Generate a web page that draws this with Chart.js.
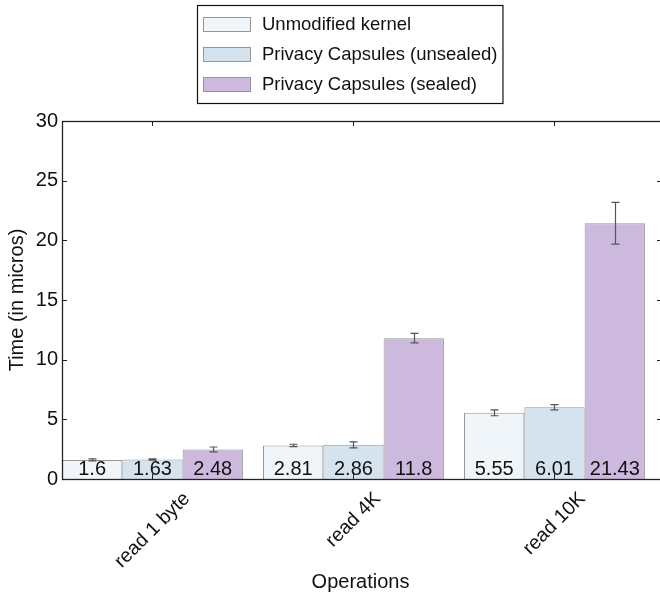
<!DOCTYPE html>
<html>
<head>
<meta charset="utf-8">
<script src="https://cdn.jsdelivr.net/npm/chart.js@4.4.1/dist/chart.umd.min.js"></script>
<style>
  html, body { margin: 0; padding: 0; background: #fff; }
  canvas { display: block; }
</style>
</head>
<body>
<canvas id="chart" width="660" height="598"></canvas>
<script>
// Latency of read operations, in microseconds
const operations = ['read 1 byte', 'read 4K', 'read 10K'];
const seriesNames = ['Unmodified kernel', 'Privacy Capsules (unsealed)', 'Privacy Capsules (sealed)'];
const unmodified = [1.6, 2.81, 5.55];
const unsealed = [1.63, 2.86, 6.01];
const sealed = [2.48, 11.8, 21.43];
// standard deviation of each measurement
const unmodifiedErr = [0.08, 0.1, 0.25];
const unsealedErr = [0.05, 0.25, 0.22];
const sealedErr = [0.2, 0.4, 1.75];
const yTicks = [0, 5, 10, 15, 20, 25, 30];

const FONT = "'Liberation Sans', Arial, Helvetica, sans-serif";
const fills = ['#f0f5f9', '#d5e3ef', '#cdb9dd'];
const edge = '#969696';
const groupCenter = 0.45;        // three bars of width 0.3 starting at each integer
const seriesValues = [unmodified, unsealed, sealed];
const seriesErrors = [unmodifiedErr, unsealedErr, sealedErr];

const datasets = seriesNames.map((name, s) => ({
  label: name,
  data: operations.map((_, i) => ({ x: i + groupCenter, y: seriesValues[s][i] })),
  backgroundColor: fills[s],
  borderColor: edge,
  borderWidth: 1,
  categoryPercentage: 0.9,
  barPercentage: 1.0
}));

// Axes frame with inward tick marks on every side; the right spine sits just past the canvas edge
const frame = {
  id: 'frame',
  afterDatasetsDraw(chart) {
    const { ctx, chartArea: a, scales: { x, y } } = chart;
    const right = a.right + 3;
    ctx.save();
    ctx.strokeStyle = '#222';
    ctx.lineWidth = 1;
    ctx.beginPath();
    y.ticks.forEach(t => {
      const py = Math.round(y.getPixelForValue(t.value)) + 0.5;
      ctx.moveTo(a.left, py); ctx.lineTo(a.left + 5, py);
      ctx.moveTo(right, py); ctx.lineTo(right - 5, py);
    });
    x.ticks.forEach(t => {
      const px = Math.round(x.getPixelForValue(t.value)) + 0.5;
      ctx.moveTo(px, a.bottom); ctx.lineTo(px, a.bottom - 5);
      ctx.moveTo(px, a.top); ctx.lineTo(px, a.top + 5);
    });
    ctx.stroke();
    ctx.lineWidth = 1.3;
    ctx.strokeRect(a.left + 0.5, a.top + 0.5, right - a.left, a.bottom - a.top);
    ctx.restore();
  }
};

// Error bars and value labels for each bar
const barExtras = {
  id: 'barExtras',
  afterDatasetsDraw(chart) {
    const { ctx, chartArea: a, scales: { y } } = chart;
    ctx.save();
    chart.data.datasets.forEach((ds, s) => {
      const meta = chart.getDatasetMeta(s);
      meta.data.forEach((bar, i) => {
        const v = seriesValues[s][i];
        const e = seriesErrors[s][i];
        const top = y.getPixelForValue(v + e);
        const bot = y.getPixelForValue(v - e);
        const cx = Math.round(bar.x) + 0.5;
        ctx.strokeStyle = '#555';
        ctx.lineWidth = 1.2;
        ctx.beginPath();
        ctx.moveTo(cx, top); ctx.lineTo(cx, bot);
        ctx.moveTo(cx - 4, top); ctx.lineTo(cx + 4, top);
        ctx.moveTo(cx - 4, bot); ctx.lineTo(cx + 4, bot);
        ctx.stroke();

        ctx.fillStyle = '#111';
        ctx.font = '20px ' + FONT;
        ctx.textAlign = 'center';
        ctx.textBaseline = 'alphabetic';
        ctx.fillText(String(v), bar.x, a.bottom - 4);
      });
    });
    ctx.restore();
  }
};

// Category labels, rotated 45 degrees and centred under each group
const xLabels = {
  id: 'xLabels',
  afterDraw(chart) {
    const { ctx, chartArea: a, scales: { x } } = chart;
    ctx.save();
    ctx.font = '19.5px ' + FONT;
    ctx.fillStyle = '#111';
    ctx.textAlign = 'center';
    ctx.textBaseline = 'middle';
    x.ticks.forEach((t, i) => {
      const label = operations[i];
      const w = ctx.measureText(label).width;
      const h = 19;
      const half = (w + h) * Math.SQRT1_2 / 2;
      const px = x.getPixelForValue(t.value);
      ctx.save();
      ctx.translate(px, a.bottom + 10 + half);
      ctx.rotate(-Math.PI / 4);
      ctx.fillText(label, 0, 0);
      ctx.restore();
    });
    ctx.restore();
  }
};

// Boxed legend, one series per row
const boxedLegend = {
  id: 'boxedLegend',
  afterDraw(chart) {
    const { ctx } = chart;
    const left = 197, top = 5, rowH = 30, sw = 47, sh = 14;
    ctx.save();
    ctx.font = '18.5px ' + FONT;
    const names = chart.data.datasets.map(d => d.label);
    const maxW = Math.max(...names.map(n => ctx.measureText(n).width));
    const textX = left + 65;
    const width = textX - left + maxW + 5;
    const height = rowH * names.length + 8;
    ctx.fillStyle = '#fff';
    ctx.fillRect(left, top, width, height);
    ctx.strokeStyle = '#111';
    ctx.lineWidth = 1.2;
    ctx.strokeRect(left + 0.5, top + 0.5, width, height);
    chart.data.datasets.forEach((d, i) => {
      const cy = top + 19 + i * rowH;
      ctx.fillStyle = d.backgroundColor;
      ctx.fillRect(left + 6, cy - sh / 2, sw, sh);
      ctx.strokeStyle = d.borderColor;
      ctx.lineWidth = 1;
      ctx.strokeRect(left + 6.5, cy - sh / 2 + 0.5, sw, sh);
      ctx.fillStyle = '#111';
      ctx.textAlign = 'left';
      ctx.textBaseline = 'middle';
      ctx.fillText(d.label, textX, cy + 1);
    });
    ctx.restore();
  }
};

new Chart(document.getElementById('chart'), {
  type: 'bar',
  data: { datasets },
  options: {
    responsive: false,
    animation: false,
    devicePixelRatio: 1,
    layout: { padding: { top: 121, left: 0, right: 1, bottom: 0 } },
    plugins: { legend: { display: false }, tooltip: { enabled: false } },
    scales: {
      x: {
        type: 'linear',
        min: 0,
        max: 2.97,
        offset: false,
        afterBuildTicks(s) { s.ticks = operations.map((_, i) => ({ value: i + groupCenter })); },
        ticks: { display: false },
        grid: { display: false, drawTicks: false },
        border: { display: false },
        title: {
          display: true, text: 'Operations', color: '#111',
          font: { family: FONT, size: 20 }, padding: { top: 0, bottom: 4 }
        },
        afterFit(s) { s.height = 119; }
      },
      y: {
        min: 0,
        max: 30,
        afterBuildTicks(s) { s.ticks = yTicks.map(v => ({ value: v })); },
        ticks: { color: '#111', font: { family: FONT, size: 20 }, padding: 4 },
        grid: { display: false, drawTicks: false },
        border: { display: false },
        title: {
          display: true, text: 'Time (in micros)', color: '#111',
          font: { family: FONT, size: 20 }, padding: { top: 5, bottom: 0 }
        },
        afterFit(s) { s.width = 62; }
      }
    }
  },
  plugins: [frame, barExtras, xLabels, boxedLegend]
});
</script>
</body>
</html>
